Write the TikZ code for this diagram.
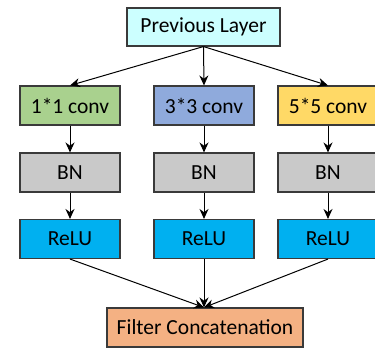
\documentclass[tikz,border=0pt]{standalone}
\usepackage{fontspec}
\setmainfont{Carlito}
\usetikzlibrary{arrows.meta,positioning}
\definecolor{prevcyan}{HTML}{CCFFFF}
\definecolor{convgreen}{HTML}{A9D18E}
\definecolor{convblue}{HTML}{8FAADC}
\definecolor{convyellow}{HTML}{FFD966}
\definecolor{bngray}{HTML}{C9C9C9}
\definecolor{relublue}{HTML}{00B0F0}
\definecolor{concatorange}{HTML}{F4B183}
\definecolor{edgegray}{HTML}{3A3A3A}

\tikzset{
  layerbox/.style={draw=edgegray, line width=1.1pt, inner sep=0pt,
    minimum width=100pt, minimum height=39pt,
    font=\fontsize{21.5}{24}\selectfont},
  flow/.style={-{Stealth[length=10pt,width=9pt]}, line width=1pt}
}

\begin{document}
\begin{tikzpicture}[x=1pt,y=1pt]
\useasboundingbox (0,0) rectangle (375,-348);
\clip (0,0) rectangle (375,-348);

% Input
\node[layerbox, fill=prevcyan, minimum width=153pt, minimum height=38pt] (prev) at (203.5,-27) {Previous Layer};

% Convolutions
\node[layerbox, fill=convgreen] (conv1) at (70,-105.5) {1*1 conv};
\node[layerbox, fill=convblue] (conv3) at (204,-105.5) {3*3 conv};
\node[layerbox, fill=convyellow] (conv5) at (328,-105.5) {5*5 conv};

% Batch norm
\node[layerbox, fill=bngray] (bn1) at (70,-172.5) {BN};
\node[layerbox, fill=bngray] (bn3) at (204,-172.5) {BN};
\node[layerbox, fill=bngray] (bn5) at (328,-172.5) {BN};

% Activation
\node[layerbox, fill=relublue] (relu1) at (70,-239) {ReLU};
\node[layerbox, fill=relublue] (relu3) at (204,-239) {ReLU};
\node[layerbox, fill=relublue] (relu5) at (328,-239) {ReLU};

% Output
\node[layerbox, fill=concatorange, minimum width=196pt] (concat) at (205,-327.5) {Filter Concatenation};

% Arrows
\foreach \c in {conv1,conv3,conv5}
  \draw[flow] (prev.south) -- (\c.north);
\foreach \i in {1,3,5} {
  \draw[flow] (conv\i) -- (bn\i);
  \draw[flow] (bn\i) -- (relu\i);
  \draw[flow] (relu\i.south) -- ([xshift=-1pt]concat.north);
}
\end{tikzpicture}
\end{document}
